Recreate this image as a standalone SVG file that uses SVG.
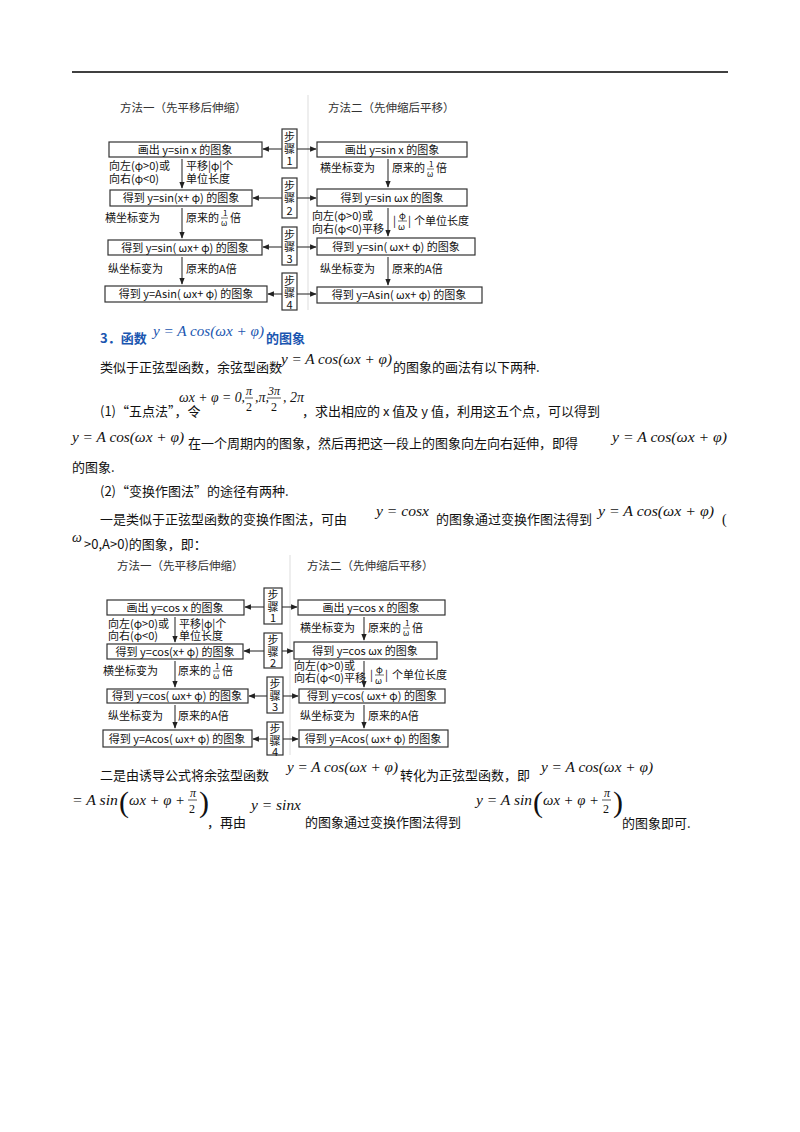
<svg xmlns="http://www.w3.org/2000/svg" width="800" height="1132" viewBox="0 0 800 1132">
<defs>
<marker id="ah" viewBox="0 0 10 10" refX="9" refY="5" markerWidth="6" markerHeight="6" orient="auto"><path d="M0,1 L10,5 L0,9 z" fill="#222"/></marker>
<style>
text{font-family:"Noto Sans CJK SC","Liberation Serif",serif;fill:#111}
.b{font-size:13px}
.d{font-size:11px}
.s8{font-size:8px}
.s9{font-size:9px}
.h{font-size:11.5px;fill:#333}
.m{font-family:"Liberation Serif",serif;font-style:italic;font-size:14px}
.mu{font-family:"Liberation Serif",serif;font-size:14px}
.f{font-family:"Liberation Serif",serif;font-size:12px}
.fi{font-family:"Liberation Serif",serif;font-style:italic;font-size:12px}
.p{font-family:"Liberation Serif",serif;font-size:30px}
.box{fill:#fff;stroke:#333;stroke-width:1.2}
.c{stroke:#333;stroke-width:1.1;fill:none}
.t{fill:#1a56b0;font-weight:bold;font-size:13px}
.blue{fill:#1a56b0}
</style>
</defs>
<rect width="800" height="1132" fill="#fff"/>
<line x1="72" y1="72" x2="728" y2="72" stroke="#000" stroke-width="1.5"/>

<g id="diagram1">
<text class="h" x="120" y="112">方法一（先平移后伸缩）</text>
<text class="h" x="328" y="112">方法二（先伸缩后平移）</text>
<line x1="308" y1="95" x2="308" y2="310" stroke="#ddd"/>
<g id="d1-l1"><rect class="box" x="109" y="142" width="153" height="15"/><text class="d" x="185" y="154" text-anchor="middle">画出 y=sin x 的图象</text></g>
<g id="d1-r1"><rect class="box" x="317" y="142" width="150" height="15"/><text class="d" x="392" y="154" text-anchor="middle">画出 y=sin x 的图象</text></g>
<g id="d1-s1"><rect class="box" x="282" y="129" width="15" height="39"/><text class="d" x="289.5" y="141" text-anchor="middle">步</text><text class="d" x="289.5" y="153" text-anchor="middle">骤</text><text class="d" x="289.5" y="165" text-anchor="middle">1</text></g>
<g id="d1-l2"><rect class="box" x="110" y="190" width="142" height="16"/><text class="d" x="181" y="202" text-anchor="middle">得到 y=sin(x+ φ) 的图象</text></g>
<g id="d1-r2"><rect class="box" x="317" y="189" width="150" height="17"/><text class="d" x="392" y="202" text-anchor="middle">得到 y=sin  ωx 的图象</text></g>
<g id="d1-s2"><rect class="box" x="282" y="178" width="15" height="40"/><text class="d" x="289.5" y="190" text-anchor="middle">步</text><text class="d" x="289.5" y="202" text-anchor="middle">骤</text><text class="d" x="289.5" y="215" text-anchor="middle">2</text></g>
<g id="d1-l3"><rect class="box" x="108" y="240" width="154" height="15"/><text class="d" x="185" y="252" text-anchor="middle">得到 y=sin( ωx+ φ) 的图象</text></g>
<g id="d1-r3"><rect class="box" x="317" y="238" width="158" height="17"/><text class="d" x="396" y="251" text-anchor="middle">得到 y=sin( ωx+ φ) 的图象</text></g>
<g id="d1-s3"><rect class="box" x="282" y="227" width="15" height="38"/><text class="d" x="289.5" y="239" text-anchor="middle">步</text><text class="d" x="289.5" y="251" text-anchor="middle">骤</text><text class="d" x="289.5" y="263" text-anchor="middle">3</text></g>
<g id="d1-l4"><rect class="box" x="105" y="286" width="162" height="16"/><text class="d" x="186" y="298" text-anchor="middle">得到 y=Asin( ωx+ φ) 的图象</text></g>
<g id="d1-r4"><rect class="box" x="317" y="287" width="165" height="16"/><text class="d" x="399" y="299" text-anchor="middle">得到 y=Asin( ωx+ φ) 的图象</text></g>
<g id="d1-s4"><rect class="box" x="282" y="273" width="15" height="37"/><text class="d" x="289.5" y="285" text-anchor="middle">步</text><text class="d" x="289.5" y="297" text-anchor="middle">骤</text><text class="d" x="289.5" y="309" text-anchor="middle">4</text></g>
<g id="d1-labels">
<text class="d" x="109" y="170">向左(φ&gt;0)或</text><text class="d" x="109" y="183">向右(φ&lt;0)</text>
<text class="d" x="186" y="170">平移|φ|个</text><text class="d" x="186" y="183">单位长度</text>
<text class="d" x="105" y="222">横坐标变为</text><text class="d" x="186" y="222">原来的</text><text class="s8" x="223" y="216">1</text><line x1="221" y1="218" x2="228" y2="218" stroke="#333" stroke-width="0.7"/><text class="s8" x="221" y="226">ω</text><text class="d" x="230" y="222">倍</text>
<text class="d" x="108" y="273">纵坐标变为</text><text class="d" x="186" y="273">原来的A倍</text>
<text class="d" x="320" y="172">横坐标变为</text><text class="d" x="392" y="172">原来的</text><text class="s8" x="429" y="167">1</text><line x1="427" y1="169" x2="434" y2="169" stroke="#333" stroke-width="0.7"/><text class="s8" x="427" y="177">ω</text><text class="d" x="436" y="172">倍</text>
<text class="d" x="312" y="220">向左(φ&gt;0)或</text><text class="d" x="312" y="233">向右(φ&lt;0)平移</text>
<text class="d" x="393" y="225">|</text><text class="s9" x="399" y="219">φ</text><line x1="398" y1="221" x2="407" y2="221" stroke="#333" stroke-width="0.7"/><text class="s9" x="398" y="230">ω</text><text class="d" x="408" y="225">|</text><text class="d" x="414" y="225">个单位长度</text>
<text class="d" x="320" y="273">纵坐标变为</text><text class="d" x="392" y="273">原来的A倍</text>
</g>
</g>

<g id="diagram2">
<text class="h" x="117" y="570">方法一（先平移后伸缩）</text>
<text class="h" x="307" y="570">方法二（先伸缩后平移）</text>
<line x1="290" y1="555" x2="290" y2="755" stroke="#ddd"/>
<g id="d2-l1"><rect class="box" x="107" y="600" width="137" height="15"/><text class="d" x="175" y="612" text-anchor="middle">画出 y=cos x 的图象</text></g>
<g id="d2-r1"><rect class="box" x="298" y="600" width="147" height="15"/><text class="d" x="371" y="612" text-anchor="middle">画出 y=cos x 的图象</text></g>
<g id="d2-s1"><rect class="box" x="264" y="588" width="18" height="36"/><text class="d" x="273" y="599" text-anchor="middle">步</text><text class="d" x="273" y="611" text-anchor="middle">骤</text><text class="d" x="273" y="622" text-anchor="middle">1</text></g>
<g id="d2-l2"><rect class="box" x="107" y="644" width="136" height="15"/><text class="d" x="175" y="656" text-anchor="middle">得到 y=cos(x+ φ) 的图象</text></g>
<g id="d2-r2"><rect class="box" x="294" y="642" width="143" height="17"/><text class="d" x="365" y="655" text-anchor="middle">得到 y=cos  ωx 的图象</text></g>
<g id="d2-s2"><rect class="box" x="264" y="633" width="18" height="35"/><text class="d" x="273" y="644" text-anchor="middle">步</text><text class="d" x="273" y="656" text-anchor="middle">骤</text><text class="d" x="273" y="667" text-anchor="middle">2</text></g>
<g id="d2-l3"><rect class="box" x="107" y="689" width="141" height="14"/><text class="d" x="177" y="700" text-anchor="middle">得到 y=cos( ωx+ φ) 的图象</text></g>
<g id="d2-r3"><rect class="box" x="299" y="689" width="146" height="14"/><text class="d" x="372" y="700" text-anchor="middle">得到 y=cos( ωx+ φ) 的图象</text></g>
<g id="d2-s3"><rect class="box" x="267" y="677" width="16" height="36"/><text class="d" x="275" y="688" text-anchor="middle">步</text><text class="d" x="275" y="700" text-anchor="middle">骤</text><text class="d" x="275" y="711" text-anchor="middle">3</text></g>
<g id="d2-l4"><rect class="box" x="103" y="730" width="149" height="17"/><text class="d" x="177" y="743" text-anchor="middle">得到 y=Acos( ωx+ φ) 的图象</text></g>
<g id="d2-r4"><rect class="box" x="299" y="730" width="149" height="17"/><text class="d" x="373" y="743" text-anchor="middle">得到 y=Acos( ωx+ φ) 的图象</text></g>
<g id="d2-s4"><rect class="box" x="267" y="722" width="16" height="33"/><text class="d" x="275" y="733" text-anchor="middle">步</text><text class="d" x="275" y="745" text-anchor="middle">骤</text><text class="d" x="275" y="756" text-anchor="middle">4</text></g>
<g id="d2-labels">
<text class="d" x="108" y="628">向左(φ&gt;0)或</text><text class="d" x="108" y="640">向右(φ&lt;0)</text>
<text class="d" x="179" y="628">平移|φ|个</text><text class="d" x="179" y="640">单位长度</text>
<text class="d" x="103" y="675">横坐标变为</text><text class="d" x="178" y="675">原来的</text><text class="s8" x="215" y="669">1</text><line x1="213" y1="671" x2="220" y2="671" stroke="#333" stroke-width="0.7"/><text class="s8" x="213" y="679">ω</text><text class="d" x="222" y="675">倍</text>
<text class="d" x="108" y="720">纵坐标变为</text><text class="d" x="178" y="720">原来的A倍</text>
<text class="d" x="300" y="632">横坐标变为</text><text class="d" x="368" y="632">原来的</text><text class="s8" x="405" y="626">1</text><line x1="403" y1="628" x2="410" y2="628" stroke="#333" stroke-width="0.7"/><text class="s8" x="403" y="636">ω</text><text class="d" x="412" y="632">倍</text>
<text class="d" x="294" y="670">向左(φ&gt;0)或</text><text class="d" x="294" y="682">向右(φ&lt;0)平移</text>
<text class="d" x="370" y="679">|</text><text class="s9" x="376" y="673">φ</text><line x1="375" y1="675" x2="384" y2="675" stroke="#333" stroke-width="0.7"/><text class="s9" x="375" y="684">ω</text><text class="d" x="385" y="679">|</text><text class="d" x="392" y="679">个单位长度</text>
<text class="d" x="300" y="720">纵坐标变为</text><text class="d" x="368" y="720">原来的A倍</text>
</g>
</g>

<g id="connectors">
<line class="c" x1="282" y1="149" x2="263" y2="149" marker-end="url(#ah)"/>
<line class="c" x1="297" y1="149" x2="316" y2="149" marker-end="url(#ah)"/>
<line class="c" x1="282" y1="198" x2="253" y2="198" marker-end="url(#ah)"/>
<line class="c" x1="297" y1="198" x2="316" y2="198" marker-end="url(#ah)"/>
<line class="c" x1="282" y1="247" x2="263" y2="247" marker-end="url(#ah)"/>
<line class="c" x1="297" y1="247" x2="316" y2="247" marker-end="url(#ah)"/>
<line class="c" x1="282" y1="294" x2="268" y2="294" marker-end="url(#ah)"/>
<line class="c" x1="297" y1="294" x2="316" y2="294" marker-end="url(#ah)"/>
<line class="c" x1="182" y1="159" x2="182" y2="188" marker-end="url(#ah)"/>
<line class="c" x1="182" y1="208" x2="182" y2="238" marker-end="url(#ah)"/>
<line class="c" x1="182" y1="257" x2="182" y2="284" marker-end="url(#ah)"/>
<line class="c" x1="388" y1="159" x2="388" y2="187" marker-end="url(#ah)"/>
<line class="c" x1="388" y1="208" x2="388" y2="236" marker-end="url(#ah)"/>
<line class="c" x1="388" y1="257" x2="388" y2="285" marker-end="url(#ah)"/>
<line class="c" x1="264" y1="607" x2="245" y2="607" marker-end="url(#ah)"/>
<line class="c" x1="282" y1="607" x2="297" y2="607" marker-end="url(#ah)"/>
<line class="c" x1="264" y1="651" x2="244" y2="651" marker-end="url(#ah)"/>
<line class="c" x1="282" y1="651" x2="293" y2="651" marker-end="url(#ah)"/>
<line class="c" x1="267" y1="696" x2="249" y2="696" marker-end="url(#ah)"/>
<line class="c" x1="283" y1="696" x2="298" y2="696" marker-end="url(#ah)"/>
<line class="c" x1="267" y1="739" x2="253" y2="739" marker-end="url(#ah)"/>
<line class="c" x1="283" y1="739" x2="298" y2="739" marker-end="url(#ah)"/>
<line class="c" x1="175" y1="617" x2="175" y2="642" marker-end="url(#ah)"/>
<line class="c" x1="175" y1="661" x2="175" y2="687" marker-end="url(#ah)"/>
<line class="c" x1="175" y1="705" x2="175" y2="728" marker-end="url(#ah)"/>
<line class="c" x1="364" y1="617" x2="364" y2="640" marker-end="url(#ah)"/>
<line class="c" x1="364" y1="661" x2="364" y2="687" marker-end="url(#ah)"/>
<line class="c" x1="364" y1="705" x2="364" y2="728" marker-end="url(#ah)"/>
</g>

<g id="body">
<text class="t" x="100" y="343">3．函数</text><text class="m blue" x="153" y="336" textLength="111" lengthAdjust="spacingAndGlyphs">y = A cos(ωx + φ)</text><text class="t" x="266" y="343">的图象</text>
<text class="b" x="100" y="372">类似于正弦型函数，余弦型函数</text><text class="m" x="281" y="364" textLength="111" lengthAdjust="spacingAndGlyphs">y = A cos(ωx + φ)</text><text class="b" x="393" y="372">的图象的画法有以下两种.</text>
<text class="m" x="179" y="402" textLength="66" lengthAdjust="spacingAndGlyphs">ωx + φ = 0,</text><text class="fi" x="246" y="395">π</text><line x1="245" y1="398" x2="253" y2="398" stroke="#111" stroke-width="0.7"/><text class="f" x="246" y="411">2</text><text class="m" x="255" y="402">,π,</text><text class="fi" x="268" y="395">3π</text><line x1="267" y1="398" x2="281" y2="398" stroke="#111" stroke-width="0.7"/><text class="f" x="271" y="411">2</text><text class="m" x="283" y="402">, 2π</text>
<text class="b" x="100" y="416">(1)“五点法”，令</text>
<text class="b" x="302" y="416">，求出相应的 x 值及 y 值，利用这五个点，可以得到</text>
<text class="m" x="72" y="442" textLength="112" lengthAdjust="spacingAndGlyphs">y = A cos(ωx + φ)</text><text class="b" x="188" y="448">在一个周期内的图象，然后再把这一段上的图象向左向右延伸，即得</text><text class="m" x="612" y="442" textLength="115" lengthAdjust="spacingAndGlyphs">y = A cos(ωx + φ)</text>
<text class="b" x="72" y="472">的图象.</text>
<text class="b" x="100" y="496">(2)“变换作图法”的途径有两种.</text>
<text class="b" x="100" y="524">一是类似于正弦型函数的变换作图法，可由</text><text class="m" x="376" y="516" textLength="53" lengthAdjust="spacingAndGlyphs">y = cosx</text><text class="b" x="436" y="524">的图象通过变换作图法得到</text><text class="m" x="598" y="516" textLength="116" lengthAdjust="spacingAndGlyphs">y = A cos(ωx + φ)</text><text class="mu" x="722" y="524">(</text>
<text class="m" x="72" y="542">ω</text><text class="b" x="84" y="549">&gt;0,A&gt;0)的图象，即：</text>
<text class="b" x="100" y="780">二是由诱导公式将余弦型函数</text><text class="m" x="287" y="772" textLength="111" lengthAdjust="spacingAndGlyphs">y = A cos(ωx + φ)</text><text class="b" x="400" y="780">转化为正弦型函数，即</text><text class="m" x="541" y="772" textLength="112" lengthAdjust="spacingAndGlyphs">y = A cos(ωx + φ)</text>
<text class="m" x="72" y="805" textLength="46" lengthAdjust="spacingAndGlyphs">= A sin</text><text class="p" x="119" y="812">(</text><text class="m" x="129" y="805" textLength="56" lengthAdjust="spacingAndGlyphs">ωx + φ +</text><text class="fi" x="190" y="797">π</text><line x1="188" y1="800" x2="197" y2="800" stroke="#111" stroke-width="0.7"/><text class="f" x="189" y="813">2</text><text class="p" x="199" y="812">)</text>
<text class="b" x="207" y="827">，再由</text><text class="m" x="251" y="810" textLength="50" lengthAdjust="spacingAndGlyphs">y = sinx</text><text class="b" x="305" y="827">的图象通过变换作图法得到</text>
<text class="m" x="476" y="805" textLength="56" lengthAdjust="spacingAndGlyphs">y = A sin</text><text class="p" x="533" y="812">(</text><text class="m" x="543" y="805" textLength="56" lengthAdjust="spacingAndGlyphs">ωx + φ +</text><text class="fi" x="604" y="797">π</text><line x1="602" y1="800" x2="611" y2="800" stroke="#111" stroke-width="0.7"/><text class="f" x="603" y="813">2</text><text class="p" x="613" y="812">)</text>
<text class="b" x="622" y="828">的图象即可.</text>
</g>
</svg>
